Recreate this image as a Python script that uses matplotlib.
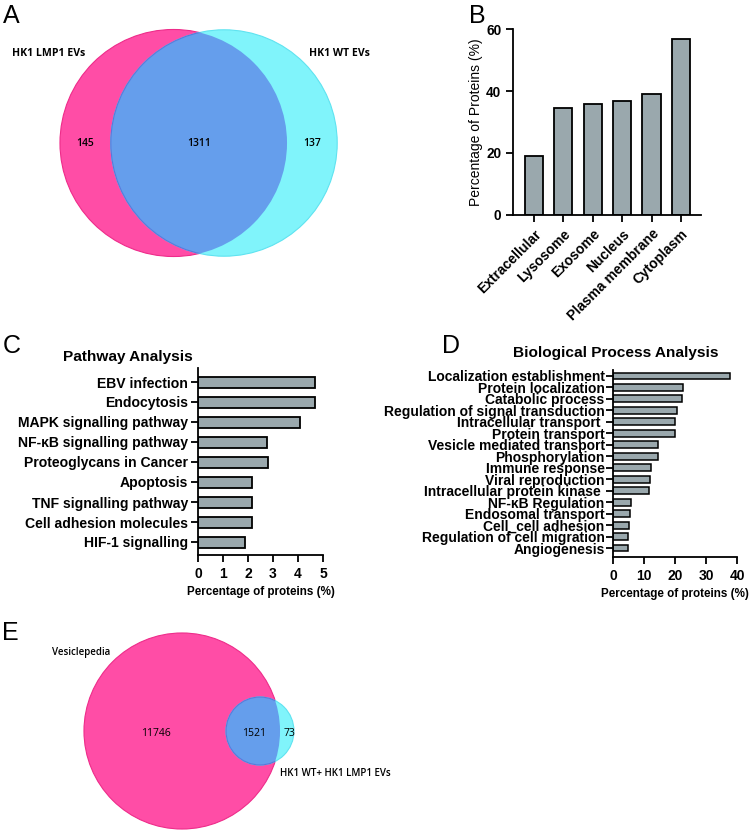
import numpy as np
import matplotlib
matplotlib.use("Agg")
import matplotlib.pyplot as plt
from matplotlib.patches import Circle

# ---- data ----
venn_a_labels = ["HK1 LMP1 EVs", "HK1 WT EVs"]
venn_a_counts = [145, 1311, 137]  # only left, both, only right

loc_names = ["Extracellular", "Lysosome", "Exosome", "Nucleus", "Plasma membrane", "Cytoplasm"]
loc_pct = [18.9, 34.6, 35.7, 36.9, 39.0, 56.9]

path_names = ["EBV infection", "Endocytosis", "MAPK signalling pathway", "NF-κB signalling pathway",
              "Proteoglycans in Cancer", "Apoptosis", "TNF signalling pathway",
              "Cell adhesion molecules", "HIF-1 signalling"]
path_pct = [4.66, 4.66, 4.08, 2.77, 2.78, 2.17, 2.17, 2.17, 1.88]

bp_names = ["Localization establishment", "Protein localization", "Catabolic process",
            "Regulation of signal transduction", "Intracellular transport ", "Protein transport",
            "Vesicle mediated transport", "Phosphorylation", "Immune response", "Viral reproduction",
            "Intracellular protein kinase ", "NF-κB Regulation", "Endosomal transport",
            "Cell_cell adhesion", "Regulation of cell migration", "Angiogenesis"]
bp_pct = [37.9, 22.5, 22.2, 20.6, 19.9, 19.9, 14.6, 14.4, 12.3, 11.9, 11.5, 5.9, 5.5, 5.1, 4.8, 4.8]

venn_e_labels = ["Vesiclepedia", "HK1 WT+ HK1 LMP1 EVs"]
venn_e_counts = [11746, 1521, 73]

W, H = 750, 831
fig = plt.figure(figsize=(W / 100, H / 100), dpi=100)

BAR = "#9aa8ad"
PINK = "#ff4da6"
CYAN = "#80f4fb"
BLUE = "#659eec"
bf = "Liberation Sans"


def ax_px(l, t, r, b):
    return fig.add_axes([l / W, 1 - b / H, (r - l) / W, (b - t) / H])


def style(ax):
    for s in ["top", "right"]:
        ax.spines[s].set_visible(False)
    for s in ["left", "bottom"]:
        ax.spines[s].set_linewidth(1.3)
    ax.tick_params(width=1.3, length=5)


def bold_ticks(labels, size):
    for lab in labels:
        lab.set_family(bf)
        lab.set_weight("bold")
        lab.set_fontsize(size)


# overlay axes in pixel units for venns and panel letters
ov = fig.add_axes([0, 0, 1, 1])
ov.set_xlim(0, W)
ov.set_ylim(H, 0)
ov.axis("off")


def venn(c1, c2, k, counts):
    r1 = k * np.sqrt(counts[0] + counts[1])
    r2 = k * np.sqrt(counts[1] + counts[2])
    a = Circle(c1, r1, facecolor=PINK, edgecolor="#ee2c8a", lw=0.8)
    b = Circle(c2, r2, facecolor=CYAN, edgecolor="#5fe3f0", lw=0.8)
    ov.add_patch(a)
    ov.add_patch(b)
    mid = Circle(c2, r2, facecolor=BLUE, edgecolor="#5a78dc", lw=0.8)
    ov.add_patch(mid)
    mid.set_clip_path(Circle(c1, r1, transform=ov.transData))


# ---- A ----
venn((173.5, 143), (224, 143), 2.975, venn_a_counts)
ov.text(49, 54, venn_a_labels[0], family="Open Sans", weight="bold", fontsize=7.6, ha="center", va="center")
ov.text(339, 54, venn_a_labels[1], family="Open Sans", weight="bold", fontsize=7.6, ha="center", va="center")
for x, n in zip([85, 199, 312], venn_a_counts):
    ov.text(x, 144, str(n), family="Open Sans", weight="semibold", fontsize=7.5, ha="center", va="center")

# ---- E ----
venn((182, 731), (260, 731), 0.851, venn_e_counts)
ov.text(81, 653, venn_e_labels[0], family="Open Sans", weight="semibold", fontsize=7, ha="center", va="center")
ov.text(280, 773, venn_e_labels[1], family="Open Sans", weight="semibold", fontsize=7, ha="left", va="center")
for x, n in zip([156, 254, 289], venn_e_counts):
    ov.text(x, 733, str(n), family="Open Sans", fontsize=7.5, ha="center", va="center")

# panel letters
for x, y, s in [(3, 23, "A"), (469, 23, "B"), (3, 353, "C"), (442, 353, "D"), (2, 640, "E")]:
    ov.text(x, y, s, family=bf, fontsize=18, ha="left", va="baseline")

# ---- B ----
axb = ax_px(513, 29, 701, 215)
xb = np.arange(len(loc_names))
axb.bar(xb, loc_pct, width=0.62, color=BAR, edgecolor="black", lw=1.3)
axb.set_xlim(-0.71, 5.68)
axb.set_ylim(0, 60)
axb.set_yticks([0, 20, 40, 60])
axb.set_xticks(xb)
axb.set_xticklabels(loc_names, rotation=45, ha="right", rotation_mode="anchor")
axb.set_ylabel("Percentage of Proteins (%)", family=bf, fontsize=10, labelpad=2)
style(axb)
bold_ticks(axb.get_xticklabels(), 10)
bold_ticks(axb.get_yticklabels(), 9.8)

# ---- C ----
axc = ax_px(198, 368, 323, 555)
yc = np.arange(len(path_names))
axc.barh(yc, path_pct, height=0.55, color=BAR, edgecolor="black", lw=1.3)
axc.set_ylim(8.65, -0.7)
axc.set_xlim(0, 5)
axc.set_xticks(range(6))
axc.set_yticks(yc)
axc.set_yticklabels(path_names)
axc.set_xlabel("Percentage of proteins (%)", family=bf, weight="bold", fontsize=8.4, labelpad=4)
axc.set_title("Pathway Analysis", family=bf, weight="bold", fontsize=11.1, x=-0.56, pad=5)
style(axc)
axc.tick_params(axis="y", pad=2)
bold_ticks(axc.get_yticklabels(), 10.1)
bold_ticks(axc.get_xticklabels(), 10)

# ---- D ----
axd = ax_px(613, 370, 737, 557)
yd = np.arange(len(bp_names))
axd.barh(yd, bp_pct, height=0.6, color=BAR, edgecolor="black", lw=1.1)
axd.set_ylim(15.78, -0.52)
axd.set_xlim(0, 40)
axd.set_xticks([0, 10, 20, 30, 40])
axd.set_yticks(yd)
axd.set_yticklabels(bp_names)
axd.set_xlabel("Percentage of proteins (%)", family=bf, weight="bold", fontsize=8.4, labelpad=4)
axd.set_title("Biological Process Analysis", family=bf, weight="bold", fontsize=11.1, x=0.02, pad=9)
style(axd)
axd.tick_params(axis="y", pad=1)
bold_ticks(axd.get_yticklabels(), 10.0)
bold_ticks(axd.get_xticklabels(), 10)

fig.savefig("out.png", dpi=100)
